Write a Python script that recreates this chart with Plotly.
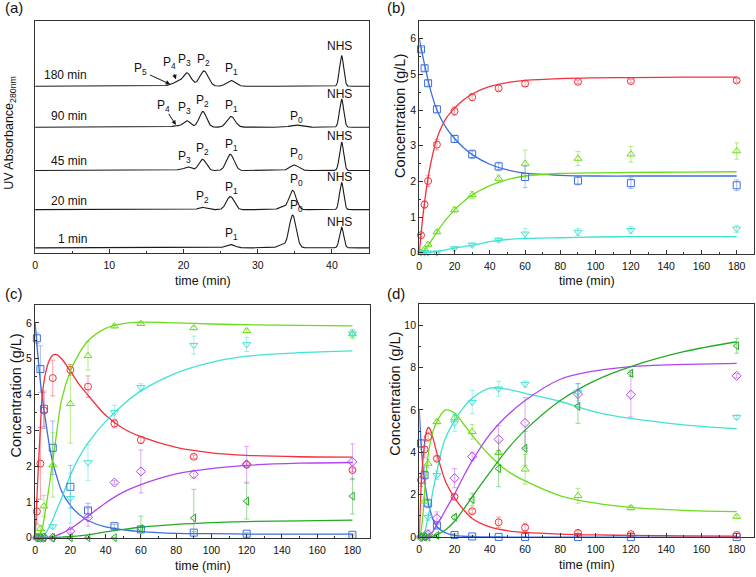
import numpy as np
import plotly.graph_objects as go

FONT = "Liberation Sans, Arial, sans-serif"
AXC = "#333333"

# ---------------- panel (a): chromatograms (peak tables)
run_labels = ["1 min", "20 min", "45 min", "90 min", "180 min"]
run_offsets = [5, 43.5, 83, 126.7, 168]
peaks_rt = [
    [26.3, 33.2, 34.7, 41.3],
    [22.5, 26.3, 33.3, 34.7, 41.3],
    [19.4, 20.6, 22.55, 26.3, 34.9, 41.3],
    [19.0, 20.45, 22.6, 26.4, 35.1, 41.3],
    [18.2, 19.1, 20.45, 22.75, 26.4, 41.3],
]
peaks_h = [
    [3.3, 3.0, 33.0, 20.7],
    [2.3, 13.3, 2.5, 19.5, 27.5],
    [0.8, 3.5, 11.3, 16.3, 5.5, 28.7],
    [1.5, 6.5, 15.8, 10.8, 2.2, 28.3],
    [1.2, 3.5, 13.5, 15.5, 5.8, 31.0],
]
peaks_w = [
    [0.6, 0.5, 0.47, 0.28],
    [0.5, 0.52, 0.5, 0.48, 0.28],
    [0.5, 0.45, 0.5, 0.52, 0.6, 0.28],
    [0.5, 0.48, 0.5, 0.55, 0.7, 0.28],
    [0.5, 0.45, 0.58, 0.58, 0.6, 0.28],
]
# peak labels: (run index, text, time, level)
peak_labels = [
    (4, "P<sub>5</sub>", 14.2, 185), (4, "P<sub>4</sub>", 18.1, 191.7), (4, "P<sub>3</sub>", 20.1, 194),
    (4, "P<sub>2</sub>", 22.7, 194), (4, "P<sub>1</sub>", 26.5, 185.7), (4, "NHS", 41.0, 208.3),
    (3, "P<sub>4</sub>", 17.3, 147.7), (3, "P<sub>3</sub>", 20.1, 145.7), (3, "P<sub>2</sub>", 22.6, 153.3),
    (3, "P<sub>1</sub>", 26.5, 147.7), (3, "P<sub>0</sub>", 35.2, 137.3), (3, "NHS", 41.0, 160),
    (2, "P<sub>3</sub>", 20.1, 96.7), (2, "P<sub>2</sub>", 22.5, 104.3), (2, "P<sub>1</sub>", 26.5, 108.3),
    (2, "P<sub>0</sub>", 35.2, 100), (2, "NHS", 41.0, 118.3),
    (1, "P<sub>2</sub>", 22.5, 56.7), (1, "P<sub>1</sub>", 26.5, 65.7), (1, "P<sub>0</sub>", 35.2, 73.3),
    (1, "NHS", 41.0, 76.7),
    (0, "P<sub>1</sub>", 26.5, 19), (0, "P<sub>0</sub>", 35.2, 46.7), (0, "NHS", 41.0, 31),
]
run_label_level = [14.3, 52.3, 92.3, 137.7, 179]
arrows = [  # (tail t, tail level, head t, head level)
    (15.3, 180, 18.2, 170), (18.66, 181.7, 18.97, 175), (17.86, 141.7, 18.97, 129),
]

# ---------------- kinetics panels
t_pts = [1, 3, 5, 10, 20, 30, 45, 60, 90, 120, 180]

# (b)
b_S = [5.70, 5.17, 4.75, 4.02, 3.19, 2.76, 2.42, 2.12, 2.02, 1.95, 1.89]
b_S_err = [0.05, 0.08, 0.08, 0.1, 0.1, 0.12, 0.12, 0.3, 0.12, 0.15, 0.15]
b_P1 = [0.49, 1.35, 2.01, 3.03, 3.97, 4.36, 4.61, 4.74, 4.79, 4.81, 4.83]
b_P1_err = [0.05, 0.1, 0.15, 0.15, 0.12, 0.1, 0.08, 0.08, 0.05, 0.05, 0.05]
b_P2 = [0.0, 0.1, 0.23, 0.58, 1.2, 1.62, 2.08, 2.5, 2.64, 2.76, 2.85]
b_P2_err = [0.02, 0.03, 0.05, 0.05, 0.08, 0.1, 0.1, 0.38, 0.2, 0.22, 0.23]
b_P3 = [0, 0, 0, 0, 0.12, 0.22, 0.36, 0.53, 0.58, 0.63, 0.67]
b_P3_err = [0, 0, 0, 0, 0.03, 0.05, 0.05, 0.15, 0.1, 0.1, 0.1]

t_fit_b = [0, 1, 2, 3, 5, 7, 10, 15, 20, 25, 30, 40, 50, 60, 80, 100, 120, 150, 180]
fb_S = [6.00, 5.75, 5.50, 5.27, 4.83, 4.45, 4.00, 3.52, 3.20, 2.95, 2.75, 2.48, 2.32, 2.23, 2.17, 2.15, 2.15, 2.15, 2.15]
fb_P1 = [0.00, 0.52, 1.00, 1.42, 2.10, 2.62, 3.20, 3.75, 4.05, 4.28, 4.45, 4.66, 4.77, 4.83, 4.88, 4.90, 4.91, 4.92, 4.92]
fb_P2 = [0, 0.01, 0.04, 0.08, 0.2, 0.35, 0.58, 0.92, 1.2, 1.43, 1.62, 1.88, 2.05, 2.15, 2.22, 2.24, 2.25, 2.26, 2.27]
fb_P3 = [0, 0, 0, 0.005, 0.01, 0.02, 0.04, 0.08, 0.13, 0.17, 0.21, 0.31, 0.37, 0.40, 0.42, 0.44, 0.45, 0.45, 0.45]

# (c)
c_S = [5.57, 4.71, 3.6, 2.51, 1.42, 0.76, 0.32, 0.23, 0.14, 0.11, 0.08]
c_S_err = [0.15, 0.65, 0.5, 0.75, 0.6, 0.2, 0.05, 0.05, 0.03, 0.03, 0.03]
c_P1 = [0.73, 2.07, 3.55, 4.46, 4.69, 4.22, 3.19, 2.73, 2.26, 2.04, 1.89]
c_P1_err = [0.35, 1.0, 0.5, 0.5, 0.15, 0.3, 0.12, 0.1, 0.05, 0.05, 0.05]
c_P2 = [0.0, 0.25, 0.88, 2.03, 3.74, 5.08, 5.91, 5.98, 5.86, 5.78, 5.69]
c_P2_err = [0.02, 0.1, 0.3, 0.9, 1.1, 0.4, 0.05, 0.05, 0.05, 0.05, 0.12]
c_P3 = [0.0, 0.0, 0.0, 0.31, 1.1, 2.1, 3.5, 4.2, 5.38, 5.4, 5.7]
c_P3_err = [0, 0, 0, 0.05, 0.7, 0.5, 0.2, 0.1, 0.25, 0.2, 0.1]
c_P4 = [0, 0, 0, 0, 0.18, 0.57, 1.54, 1.85, 1.77, 2.05, 2.12]
c_P4_err = [0, 0, 0, 0, 0.05, 0.25, 0.05, 0.6, 0.1, 0.5, 0.5]
c_P5 = [0, 0, 0, 0, 0, 0, 0, 0.25, 0.55, 1.02, 1.16]
c_P5_err = [0, 0, 0, 0, 0, 0, 0, 0.35, 0.8, 0.5, 0.5]

t_fit_c = [0, 1, 2, 3, 4, 5, 6, 8, 10, 12, 15, 20, 25, 30, 40, 50, 60, 80, 100, 120, 150, 180]
fc_S = [6.0, 5.4, 4.85, 4.35, 3.95, 3.58, 3.25, 2.6, 2.1, 1.75, 1.3, 0.9, 0.65, 0.48, 0.3, 0.22, 0.17, 0.12, 0.11, 0.1, 0.1, 0.1]
fc_P1 = [0, 1.1, 2.15, 3.1, 3.95, 4.35, 4.62, 4.95, 5.1, 5.12, 5.0, 4.65, 4.28, 3.98, 3.42, 3.05, 2.82, 2.52, 2.37, 2.3, 2.26, 2.25]
fc_P2 = [0, 0.01, 0.05, 0.13, 0.25, 0.5, 0.8, 1.45, 2.15, 2.85, 3.85, 4.65, 5.15, 5.5, 5.85, 5.98, 6.02, 6.0, 5.97, 5.95, 5.93, 5.92]
fc_P3 = [0, 0, 0, 0.01, 0.03, 0.06, 0.12, 0.3, 0.5, 0.75, 1.1, 1.75, 2.25, 2.65, 3.25, 3.72, 4.1, 4.6, 4.9, 5.07, 5.17, 5.22]
fc_P4 = [0, 0, 0, 0, 0, 0, 0, 0.01, 0.03, 0.06, 0.12, 0.25, 0.42, 0.6, 0.97, 1.27, 1.48, 1.78, 1.93, 2.02, 2.08, 2.1]
fc_P5 = [0, 0, 0, 0, 0, 0, 0, 0, 0.003, 0.006, 0.012, 0.03, 0.05, 0.08, 0.16, 0.23, 0.29, 0.37, 0.42, 0.45, 0.47, 0.49]

# (d)
d_S = [4.42, 2.92, 1.59, 0.55, 0.1, 0.03, 0.01, 0.0, 0.0, 0.0, 0.0]
d_S_err = [0.2, 0.4, 0.2, 0.1, 0.05, 0.03, 0.02, 0.02, 0.02, 0.02, 0.02]
d_P1 = [2.69, 4.14, 4.73, 3.7, 1.9, 1.22, 0.7, 0.45, 0.2, 0.14, 0.1]
d_P1_err = [0.3, 0.4, 0.2, 0.1, 0.1, 0.1, 0.25, 0.2, 0.1, 0.08, 0.08]
d_P2 = [0.0, 1.69, 3.47, 5.44, 5.62, 4.97, 3.98, 3.2, 1.95, 1.38, 0.97]
d_P2_err = [0.05, 0.2, 0.2, 0.1, 0.15, 0.35, 0.6, 0.7, 0.35, 0.1, 0.08]
d_P3 = [0.0, 0.0, 0.94, 2.92, 5.39, 6.37, 7.0, 7.22, 6.83, None, 5.66]
d_P3_err = [0, 0.05, 0.15, 0.2, 0.4, 0.55, 0.35, 0.15, 0.4, 0, 0.1]
d_P4 = [0.0, 0.05, 0.13, 0.89, 2.78, 3.8, 4.61, 5.39, 6.75, 6.72, 7.61]
d_P4_err = [0.02, 0.05, 0.2, 0.3, 0.45, 0.2, 0.65, 1.2, 0.5, 1.05, 0.1]
d_P5 = [0.0, 0.0, 0.0, 0.08, 0.94, 1.77, 3.23, 4.19, 6.17, 7.73, 9.03]
d_P5_err = [0, 0, 0, 0.05, 0.1, 0.3, 0.85, 0.8, 0.8, 0.15, 0.35]

t_fit_d = [0, 1, 2, 3, 4, 5, 6, 8, 10, 12, 15, 20, 25, 30, 40, 50, 60, 80, 100, 120, 150, 180]
fd_S = [6.0, 4.45, 3.35, 2.65, 2.1, 1.62, 1.3, 0.78, 0.5, 0.34, 0.2, 0.08, 0.04, 0.02, 0.01, 0, 0, 0, 0, 0, 0, 0]
fd_P1 = [0, 2.3, 3.6, 4.4, 4.95, 5.17, 5.12, 4.6, 3.95, 3.35, 2.6, 1.85, 1.3, 0.88, 0.48, 0.3, 0.22, 0.14, 0.1, 0.08, 0.06, 0.05]
fd_P2 = [0, 0.3, 1.0, 2.15, 3.1, 3.85, 4.35, 5.05, 5.45, 5.75, 6.0, 5.85, 5.35, 4.8, 3.85, 3.12, 2.65, 1.95, 1.6, 1.4, 1.26, 1.2]
fd_P3 = [0, 0.01, 0.05, 0.2, 0.55, 0.95, 1.35, 2.3, 3.1, 3.9, 4.7, 5.5, 6.1, 6.55, 7.03, 6.98, 6.78, 6.4, 5.9, 5.6, 5.3, 5.12]
fd_P4 = [0, 0, 0, 0.01, 0.02, 0.05, 0.1, 0.3, 0.6, 0.85, 1.3, 2.03, 2.85, 3.6, 4.85, 5.75, 6.45, 7.45, 7.85, 8.05, 8.15, 8.2]
fd_P5 = [0, 0, 0, 0, 0, 0.01, 0.02, 0.05, 0.12, 0.2, 0.35, 0.75, 1.3, 1.9, 3.05, 4.15, 5.05, 6.45, 7.4, 8.05, 8.75, 9.22]

# axis titles
x_title = "time (min)"
y_title_a = "UV Absorbance<sub>280nm</sub>"
y_title_conc = "Concentration (g/L)"
panel_tags = ["(a)", "(b)", "(c)", "(d)"]

# ---------------- styles
COL = {"S": "#3b6fe0", "P1": "#f5303c", "P2": "#6cdc1c", "P3": "#3fe3d3", "P4": "#b044ee", "P5": "#22aa22"}
ERRC = {"S": "rgba(59,111,224,0.45)", "P1": "rgba(245,48,60,0.45)", "P2": "rgba(108,220,28,0.5)",
        "P3": "rgba(63,227,211,0.5)", "P4": "rgba(176,68,238,0.45)", "P5": "rgba(34,170,34,0.45)"}
SYM = {"S": "square-open", "P1": "circle-open", "P2": "triangle-up-open", "P3": "triangle-down-open",
       "P4": "diamond-open", "P5": "triangle-left-open"}

fig = go.Figure()

# panel (a)
t_chrom = np.arange(0, 45.0001, 0.05)
for i, lab in enumerate(run_labels):
    y = np.full_like(t_chrom, run_offsets[i])
    for rt, h, s in zip(peaks_rt[i], peaks_h[i], peaks_w[i]):
        y = y + h * np.exp(-(t_chrom - rt) ** 2 / (2 * s ** 2))
    fig.add_trace(go.Scatter(x=t_chrom, y=y, mode="lines", line=dict(color="#1a1a1a", width=1.1),
                             xaxis="x", yaxis="y", showlegend=False, hoverinfo="skip"))

LBL = 12
annotations = []
for i, lab in enumerate(run_labels):
    annotations.append(dict(x=7.2, y=run_label_level[i], xref="x", yref="y", text=lab, showarrow=False,
                            xanchor="right", yanchor="middle", font=dict(size=LBL, color="#111", family=FONT)))
for ri, txt, tt, lv in peak_labels:
    annotations.append(dict(x=tt, y=lv, xref="x", yref="y", text=txt, showarrow=False,
                            xanchor="center", yanchor="middle", font=dict(size=LBL, color="#111", family=FONT)))
for ta, la, th, lh in arrows:
    annotations.append(dict(x=th, y=lh, ax=ta, ay=la, xref="x", yref="y", axref="x", ayref="y", text="",
                            showarrow=True, arrowhead=2, arrowsize=0.9, arrowwidth=1, arrowcolor="#111"))


def add_panel(xa, ya, t_fit, fits, pts, errs, keys):
    for k in keys:
        fig.add_trace(go.Scatter(x=t_fit, y=fits[k], mode="lines", line=dict(color=COL[k], width=1.3, shape="spline", smoothing=0.9),
                                 xaxis=xa, yaxis=ya, showlegend=False, hoverinfo="skip"))
    for k in keys:
        fig.add_trace(go.Scatter(x=t_pts, y=pts[k], mode="markers",
                                 marker=dict(symbol=SYM[k], size=7, color=COL[k], line=dict(width=1, color=COL[k])),
                                 error_y=dict(type="data", array=errs[k], color=ERRC[k], thickness=1, width=2.5),
                                 cliponaxis=False, xaxis=xa, yaxis=ya, showlegend=False))


add_panel("x2", "y2", t_fit_b, {"S": fb_S, "P1": fb_P1, "P2": fb_P2, "P3": fb_P3},
          {"S": b_S, "P1": b_P1, "P2": b_P2, "P3": b_P3},
          {"S": b_S_err, "P1": b_P1_err, "P2": b_P2_err, "P3": b_P3_err}, ["S", "P1", "P2", "P3"])
add_panel("x3", "y3", t_fit_c, {"S": fc_S, "P1": fc_P1, "P2": fc_P2, "P3": fc_P3, "P4": fc_P4, "P5": fc_P5},
          {"S": c_S, "P1": c_P1, "P2": c_P2, "P3": c_P3, "P4": c_P4, "P5": c_P5},
          {"S": c_S_err, "P1": c_P1_err, "P2": c_P2_err, "P3": c_P3_err, "P4": c_P4_err, "P5": c_P5_err},
          ["S", "P1", "P2", "P3", "P4", "P5"])
add_panel("x4", "y4", t_fit_d, {"S": fd_S, "P1": fd_P1, "P2": fd_P2, "P3": fd_P3, "P4": fd_P4, "P5": fd_P5},
          {"S": d_S, "P1": d_P1, "P2": d_P2, "P3": d_P3, "P4": d_P4, "P5": d_P5},
          {"S": d_S_err, "P1": d_P1_err, "P2": d_P2_err, "P3": d_P3_err, "P4": d_P4_err, "P5": d_P5_err},
          ["S", "P1", "P2", "P3", "P4", "P5"])


def axis(domain, rng, dtick, minor, anchor, show_labels=True, ticks="inside", is_x=True):
    d = dict(domain=domain, range=rng, anchor=anchor, showline=True, linecolor=AXC, linewidth=1.3, mirror=True,
             ticks=ticks, ticklen=4, tickwidth=1, tickcolor=AXC, showgrid=False, zeroline=False,
             showticklabels=show_labels, tickfont=dict(size=10.5, color="#111", family=FONT))
    if is_x:
        d["ticklabelstandoff"] = 2
    if dtick:
        d.update(tickmode="linear", tick0=0, dtick=dtick)
    if minor:
        d["minor"] = dict(ticks="inside", ticklen=2, tickwidth=1, tickcolor=AXC, dtick=minor, showgrid=False)
    return d


W, H = 756, 577
def px(x0, x1):
    return [x0 / W, x1 / W]
def py(top, bottom):
    return [1 - bottom / H, 1 - top / H]

fig.update_layout(
    width=W, height=H, margin=dict(l=0, r=0, t=0, b=0), paper_bgcolor="white", plot_bgcolor="white",
    font=dict(family=FONT, color="#111"), showlegend=False,
    xaxis=axis(px(32.3, 368), [0, 45], 10, 5, "y"),
    yaxis=axis(py(21, 255), [0, 234], None, None, "x", show_labels=False, ticks="", is_x=False),
    xaxis2=axis(px(418.5, 755.3), [0, 190], 20, 10, "y2"),
    yaxis2=axis(py(21, 256), [-0.03, 6.5], 1, 0.5, "x2", is_x=False),
    xaxis3=axis(px(32.3, 369), [0, 190], 20, 10, "y3"),
    yaxis3=axis(py(307.7, 542.7), [-0.01, 6.5], 1, 0.5, "x3", is_x=False),
    xaxis4=axis(px(418.5, 755.3), [0, 190], 20, 10, "y4"),
    yaxis4=axis(py(306.7, 542), [-0.01, 11], 2, 1, "x4", is_x=False),
)


def paper_text(text, x, y, size, angle=0, xanchor="center"):
    annotations.append(dict(x=x / W, y=1 - y / H, xref="paper", yref="paper", text=text, textangle=angle,
                            showarrow=False, xanchor=xanchor, yanchor="middle",
                            font=dict(size=size, color="#111", family=FONT)))


# x titles
for cx, cy in [(201, 283), (587, 283), (201, 571), (587, 570)]:
    paper_text(x_title, cx, cy, 12.5)
# y titles
paper_text(y_title_a, 7.5, 133.5, 12.5, angle=-90)
for cx, cy in [(399.5, 116.5), (13, 399), (393.7, 397.5)]:
    paper_text(y_title_conc, cx, cy, 14.5, angle=-90)
# panel tags
for lab, x0, y0 in zip(panel_tags, [0, 384, 0, 384], [8, 8, 296, 296]):
    paper_text(lab, x0, y0, 15, xanchor="left")

fig.update_layout(annotations=annotations)

fig.write_html("out.html", config={"displayModeBar": False},
               post_script="document.body.style.margin='0';document.body.style.overflow='hidden';")
